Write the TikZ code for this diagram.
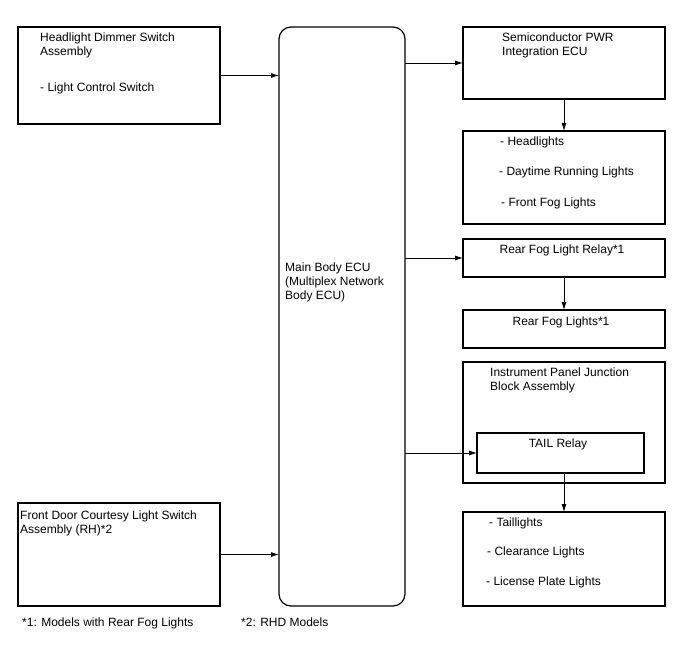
\documentclass[tikz,border=0pt]{standalone}
\usepackage{fontspec}
\setmainfont{Liberation Sans}
\usetikzlibrary{arrows.meta}

\begin{document}
\begin{tikzpicture}[x=1pt, y=-1pt,
    box/.style={draw, line width=1.2pt, inner sep=0pt, outer sep=0pt,
      anchor=north west},
    txt/.style={inner sep=0pt, anchor=north west, align=left,
      font=\fontsize{12}{14}\selectfont},
    ctxt/.style={txt, anchor=north},
    conn/.style={line width=0.8pt, -{Latex[length=8pt, width=5pt]}}]
  \useasboundingbox (0,0) rectangle (688,658);
  % left column: switches
  \node[box, minimum width=202, minimum height=97] (hds) at (18,27) {};
  \node[box, minimum width=202, minimum height=103] (fdc) at (18,503) {};
  % the main body ECU
  \node[box, rounded corners=12pt, minimum width=126, minimum height=579]
    (ecu) at (279,27) {};
  % right column: outputs
  \node[box, minimum width=202, minimum height=72] (pwr) at (463,27) {};
  \node[box, minimum width=202, minimum height=93] (head) at (463,131) {};
  \node[box, minimum width=202, minimum height=38] (rfrelay) at (463,239) {};
  \node[box, minimum width=202, minimum height=38] (rflamp) at (463,310) {};
  \node[box, minimum width=202, minimum height=121] (ipjb) at (463,362) {};
  \node[box, minimum width=167, minimum height=40] (tail) at (477,433) {};
  \node[box, minimum width=202, minimum height=94] (taillamp) at (463,512) {};
  % texts
  \node[txt] (hds-t) at (40,33) {Headlight Dimmer Switch\\Assembly};
  \node[txt] (hds-s) at (40,83) {- Light Control Switch};
  \node[txt] (fdc-t) at (20,511) {Front Door Courtesy Light Switch\\Assembly (RH)*2};
  \node[txt] (ecu-t) at (285,263) {Main Body ECU\\(Multiplex Network\\Body ECU)};
  \node[txt] (pwr-t) at (502,33) {Semiconductor PWR\\Integration ECU};
  \foreach \n/\x/\y/\t in {1/500/137/Headlights,
                           2/499/167/Daytime Running Lights,
                           3/501/198/Front Fog Lights}
    \node[txt] (head-\n) at (\x,\y) {- \t};
  \node[ctxt] (rfrelay-t) at (562,245) {Rear Fog Light Relay*1};
  \node[ctxt] (rflamp-t) at (561,317) {Rear Fog Lights*1};
  \node[txt] (ipjb-t) at (490,368) {Instrument Panel Junction\\Block Assembly};
  \node[ctxt] (tail-t) at (558,439) {TAIL Relay};
  \foreach \n/\x/\y/\t in {1/489/518/Taillights,
                           2/487/547/Clearance Lights,
                           3/486/577/License Plate Lights}
    \node[txt] (taillamp-\n) at (\x,\y) {- \t};
  % footnotes
  \node[txt] (note1) at (22,618) {*1: Models with Rear Fog Lights};
  \node[txt] (note2) at (241,618) {*2: RHD Models};
  % connectors
  \draw[conn] (hds) -- (hds -| ecu.west);
  \draw[conn] (fdc) -- (fdc -| ecu.west);
  \foreach \b in {pwr, rfrelay, tail}
    \draw[conn] (\b -| ecu.east) -- (\b.west);
  \draw[conn] (pwr) -- (head);
  \draw[conn] (rfrelay) -- (rflamp);
  \draw[conn] (tail.south -| taillamp.north) -- (taillamp.north);
\end{tikzpicture}
\end{document}
